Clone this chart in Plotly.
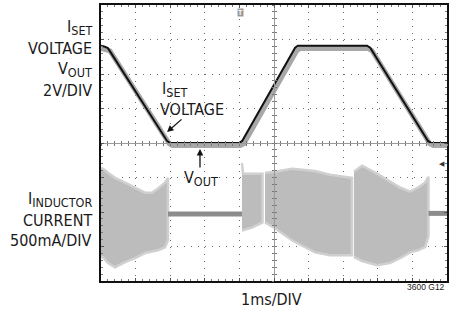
import plotly.graph_objects as go

# ---------------- data (time in ms / divisions, amplitude in divisions) ----------------
# I_SET voltage (black trace)
iset_t = [0, 0.09, 0.2, 1.91, 1.99, 3.99, 4.08, 5.61, 5.69, 7.69, 7.78, 9.45, 9.54, 10]
iset_v = [6.82, 6.80, 6.75, 4.06, 4.00, 4.00, 4.06, 6.76, 6.82, 6.82, 6.76, 4.06, 4.00, 4.00]

# V_OUT (grey trace)
vout_t = [0, 0.12, 0.26, 1.97, 2.06, 4.03, 4.13, 5.66, 5.76, 7.72, 7.83, 9.50, 9.60, 10]
vout_v = [6.74, 6.72, 6.67, 3.98, 3.93, 3.93, 3.98, 6.68, 6.74, 6.74, 6.68, 3.98, 3.93, 3.93]

# Inductor current ripple envelopes (switching bursts)
burst1_t = [0, 0.058, 0.202, 0.405, 0.694, 0.983, 1.272, 1.474, 1.647, 1.850, 1.936]
burst1_hi = [3.28, 3.25, 3.14, 2.99, 2.85, 2.71, 2.56, 2.56, 2.68, 2.85, 2.99]
burst1_lo = [0.69, 0.69, 0.52, 0.40, 0.55, 0.66, 0.81, 0.86, 0.89, 0.98, 1.18]

burst2_t = [4.075, 4.104, 4.364, 4.668]
burst2_hi = [3.42, 3.11, 3.11, 3.11]
burst2_lo = [1.47, 1.47, 1.55, 1.70]

burst3_t = [4.740, 5.029, 5.520, 6.185, 6.618, 7.254]
burst3_hi = [3.14, 3.17, 3.25, 3.19, 3.08, 2.99]
burst3_lo = [1.70, 1.53, 1.18, 0.83, 0.75, 0.75]

burst4_t = [7.312, 7.543, 7.977, 8.353, 8.642, 8.931, 9.162, 9.364, 9.465]
burst4_hi = [3.17, 3.34, 3.11, 2.88, 2.71, 2.59, 2.71, 2.85, 3.02]
burst4_lo = [0.69, 0.58, 0.46, 0.52, 0.66, 0.83, 0.89, 0.98, 1.29]

# Inductor current when not switching (flat segments)
flat1_t = [1.936, 4.075]
flat1_i = [1.94, 1.94]
flat2_t = [9.465, 10]
flat2_i = [1.96, 1.96]

FONT = "DejaVu Sans Condensed, Liberation Sans, Arial, sans-serif"

fig = go.Figure()

# current bursts as filled envelopes (soft halo edge + body)
for bt, bh, bl in [(burst1_t, burst1_hi, burst1_lo), (burst2_t, burst2_hi, burst2_lo),
                   (burst3_t, burst3_hi, burst3_lo), (burst4_t, burst4_hi, burst4_lo)]:
    fig.add_trace(go.Scatter(x=bt + bt[::-1], y=bh + bl[::-1], mode="lines",
                             fill="toself", fillcolor="#bcbcbc",
                             line=dict(width=2.5, color="#d0d0d0"),
                             hoverinfo="skip", showlegend=False))
for ft, fi in [(flat1_t, flat1_i), (flat2_t, flat2_i)]:
    fig.add_trace(go.Scatter(x=ft, y=fi, mode="lines",
                             line=dict(width=5, color="#8c8c8c"),
                             hoverinfo="skip", showlegend=False))

fig.add_trace(go.Scatter(x=vout_t, y=vout_v, mode="lines",
                         line=dict(width=5, color="#a8a8a8"),
                         hoverinfo="skip", showlegend=False))
fig.add_trace(go.Scatter(x=iset_t, y=iset_v, mode="lines",
                         line=dict(width=2, color="#111111"),
                         hoverinfo="skip", showlegend=False))

# invisible traces to instantiate the centre crosshair axes
fig.add_trace(go.Scatter(x=[], y=[], xaxis="x2", yaxis="y2", showlegend=False))
fig.add_trace(go.Scatter(x=[], y=[], xaxis="x3", yaxis="y3", showlegend=False))

common = dict(showticklabels=False, zeroline=False, fixedrange=True)
fig.update_layout(
    width=457, height=309,
    margin=dict(l=101, r=10, t=3, b=28),
    paper_bgcolor="white", plot_bgcolor="white",
    font=dict(family=FONT, color="#1a1a1a"),
    showlegend=False,
    xaxis=dict(range=[0, 10], tick0=0, dtick=1, showgrid=True, gridcolor="#6a6a6a",
               gridwidth=1, griddash="1px,5.92px", ticks="inside", ticklen=3,
               tickcolor="#555", showline=True, linecolor="#111", linewidth=2,
               mirror="ticks",
               minor=dict(dtick=0.2, tick0=0, ticks="inside", ticklen=2,
                          tickcolor="#777", showgrid=False),
               **common),
    yaxis=dict(range=[0, 8], tick0=0, dtick=1, showgrid=True, gridcolor="#6a6a6a",
               gridwidth=1, griddash="1px,5.95px", ticks="inside", ticklen=3,
               tickcolor="#555", showline=True, linecolor="#111", linewidth=2,
               mirror="ticks",
               minor=dict(dtick=0.2, tick0=0, ticks="inside", ticklen=2,
                          tickcolor="#777", showgrid=False),
               **common),
    xaxis2=dict(overlaying="x", range=[0, 10], anchor="free", position=0.5,
                showline=True, linecolor="#9a9a9a", linewidth=1, ticks="inside",
                ticklen=2, tickcolor="#777", tick0=0, dtick=0.2, showgrid=False, **common),
    yaxis2=dict(overlaying="y", range=[0, 8], anchor="free", position=0.5,
                showline=True, linecolor="#9a9a9a", linewidth=1, ticks="inside",
                ticklen=2, tickcolor="#777", tick0=0, dtick=0.2, showgrid=False, **common),
    xaxis3=dict(overlaying="x", range=[0, 10], anchor="free", position=0.5,
                showline=False, ticks="outside", ticklen=2, tickcolor="#777",
                tick0=0, dtick=0.2, showgrid=False, **common),
    yaxis3=dict(overlaying="y", range=[0, 8], anchor="free", position=0.5,
                showline=False, ticks="outside", ticklen=2, tickcolor="#777",
                tick0=0, dtick=0.2, showgrid=False, **common),
)

SUB = '<sub><span style="font-size:12.5px">{}</span></sub>'

ann = []
def label(text, x, y, ref="paper", xanchor="right", size=16, color="#1a1a1a", family=FONT):
    r = "x" if ref is None else ref
    ry = "y" if ref is None else ref
    ann.append(dict(text=text, x=x, y=y, xref=r, yref=ry, xanchor=xanchor,
                    yanchor="middle", showarrow=False,
                    font=dict(size=size, color=color, family=family)))

# left channel labels (paper coordinates)
label("I" + SUB.format("SET"), -0.0202, 0.918)
label("VOLTAGE", -0.0202, 0.8435)
label("V" + SUB.format("OUT"), -0.0202, 0.768)
label("2V/DIV", -0.0202, 0.692)
label("I" + SUB.format("INDUCTOR"), -0.0202, 0.295)
label("CURRENT", -0.0202, 0.221)
label("500mA/DIV", -0.0202, 0.145)
# bottom
label("1ms/DIV", 0.4942, -0.0665, xanchor="center")
label("3600 G12", 1.0, -0.0234, size=8.5, family="Liberation Sans, Arial, sans-serif")
# in-plot callouts (data coordinates)
label("I" + SUB.format("SET"), 1.70, 5.56, ref=None, xanchor="left")
label("VOLTAGE", 1.66, 4.98, ref=None, xanchor="left")
label("V" + SUB.format("OUT"), 2.33, 2.96, ref=None, xanchor="left")

fig.update_layout(annotations=ann)

# arrows
fig.add_annotation(x=1.908, y=4.317, xref="x", yref="y", text="", showarrow=True,
                   ax=16, ay=-14, arrowhead=2, arrowsize=1, arrowwidth=1.3, arrowcolor="#111")
fig.add_annotation(x=2.861, y=3.827, xref="x", yref="y", text="", showarrow=True,
                   ax=0, ay=20, arrowhead=2, arrowsize=1, arrowwidth=1.3, arrowcolor="#111")
# trigger marker and channel reference marker
fig.add_annotation(x=4.046, y=7.78, xref="x", yref="y", text="<b>T</b>", showarrow=False,
                   font=dict(size=7, color="white", family="Liberation Sans, Arial"),
                   bgcolor="#9a9a9a", borderpad=0)
fig.add_annotation(x=9.86, y=3.40, xref="x", yref="y", text="◀", showarrow=False,
                   font=dict(size=7, color="#333", family="DejaVu Sans"))

fig.write_html("out.html", config={"displayModeBar": False},
               post_script="document.body.style.margin='0px';")
